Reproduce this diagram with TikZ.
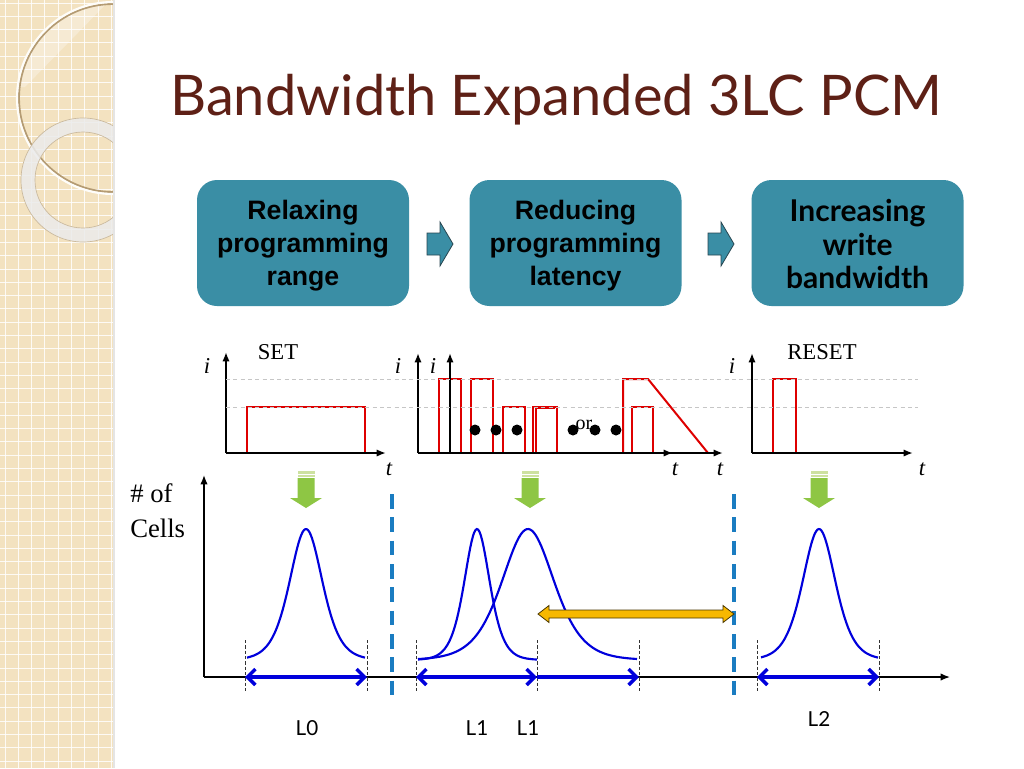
\documentclass[tikz,border=0pt]{standalone}
\usepackage{fontspec}
\setmainfont{Liberation Serif}
\newfontfamily\titlefont{Lato}
\newfontfamily\boxfont{Liberation Sans}
\newfontfamily\gillfont{Lato}
\usetikzlibrary{arrows.meta,calc}
\definecolor{stripc}{RGB}{243,226,192}
\definecolor{titlec}{RGB}{94,32,22}
\definecolor{tealc}{RGB}{58,142,165}
\definecolor{tealdark}{RGB}{40,70,80}
\definecolor{pulsec}{RGB}{222,0,0}
\definecolor{curvec}{RGB}{0,0,220}
\definecolor{dashblue}{RGB}{26,124,193}
\definecolor{goldc}{RGB}{247,184,0}
\definecolor{greenc}{RGB}{142,198,68}
\definecolor{greenl}{RGB}{205,225,160}
\definecolor{ringbrown}{RGB}{180,155,115}
\tikzset{
  stage/.style={fill=tealc, rounded corners=15pt, minimum width=159pt, minimum height=94.5pt,
    inner sep=0pt},
  stagetext/.style={align=center, inner sep=0pt, font=\boxfont\bfseries\fontsize{20}{24.75}\selectfont},
  blockarrow/.style={fill=tealc, draw=tealdark, line width=0.6pt},
  axisline/.style={line width=1.4pt, -{Latex[length=7pt,width=5.5pt]}},
  axisthin/.style={line width=1pt, -{Latex[length=7pt,width=5.5pt]}},
  pulse/.style={pulsec, line width=1.5pt},
  guide/.style={gray!45, line width=0.6pt, dash pattern=on 3pt off 2.5pt},
  serif/.style={font=\fontsize{17}{20}\selectfont},
  ilab/.style={font=\itshape\fontsize{17}{20}\selectfont, anchor=base},
  curve/.style={curvec, line width=1.6pt},
  tick/.style={black!80, line width=0.6pt, dash pattern=on 2.5pt off 1.5pt},
  spread/.style={curvec, line width=2.6pt},
  sep/.style={dashblue, line width=2.6pt, dash pattern=on 11pt off 6.5pt},
  greenarrow/.style={fill=greenc},
  llab/.style={font=\gillfont\fontsize{15.5}{18}\selectfont, anchor=base},
  gridline/.style={white, line width=0.7pt, opacity=0.85}
}
\begin{document}
\begin{tikzpicture}[x=0.75pt,y=-0.75pt]
\useasboundingbox (0,0) rectangle (1024,768);
\fill[white] (0,0) rectangle (1024,768);
% ---------- decorative strip ----------
\begin{scope}
  \clip (0,0) rectangle (113,768);
  \fill[stripc] (0,0) rectangle (113,768);
  \foreach \gx in {5,18.3,...,113} \draw[gridline] (\gx,0) -- (\gx,768);
  \foreach \gy in {3,16.3,...,768} \draw[gridline] (0,\gy) -- (113,\gy);
  \begin{scope}
    \clip (113,98) circle (95);
    \fill[white, opacity=0.3] (0,0) -- (110,0) -- (25,87) -- (0,87) -- cycle;
  \end{scope}
  \draw[ringbrown, line width=1.4pt] (113,98) circle (94);
  \draw[white!92!stripc, line width=1.6pt] (113,98) circle (96);
  \fill[black!8, opacity=0.85, even odd rule] (83,180) circle (62) (83,180) circle (48);
  \draw[ringbrown!70, line width=0.5pt] (83,180) circle (62) (83,180) circle (48);
\end{scope}
\fill[black!10] (113,0) rectangle (115,768);
% ---------- title ----------
\node[anchor=base west, text=titlec, inner sep=0pt, font=\titlefont\fontsize{42}{50}\selectfont]
  (title) at (170,115) {Bandwidth Expanded 3LC PCM};
% ---------- stage boxes ----------
\node[stage] (b1) at (303,243) {};
\node[stage] (b2) at (575.5,243) {};
\node[stage] (b3) at (857.5,243) {};
\node[stagetext] (b1t) at ($(b1.center)+(0,3)$) {Relaxing\\programming\\range};
\node[stagetext] (b2t) at ($(b2.center)+(0,3)$) {Reducing\\programming\\latency};
\node[stagetext, font=\gillfont\bfseries\fontsize{22.5}{25}\selectfont] (b3t) at ($(b3.center)+(0,1)$) {Increasing\\write\\bandwidth};
\draw[blockarrow] (427,233) -- (440,233) -- (440,222) -- (453,244) -- (440,266) -- (440,255) -- (427,255) -- cycle;
\draw[blockarrow] (708,233) -- (721,233) -- (721,222) -- (734,244) -- (721,266) -- (721,255) -- (708,255) -- cycle;
% ---------- pulse plots ----------
% SET
\draw[pulse] (247,453) -- (247,407) -- (365,407) -- (365,453);
\draw[axisline] (226,453) -- (226,352);
\draw[axisline] (226,453) -- (386,453);
\node[serif, anchor=base] (setl) at (278,359) {SET};
\node[ilab] (i1) at (207,373) {i};
\node[ilab] (t1) at (389,475) {t};
% middle
\draw[pulse] (439,453) -- (439,379) -- (461,379) -- (461,453);
\draw[pulse] (471,453) -- (471,379) -- (493,379) -- (493,453);
\draw[pulse] (503,453) -- (503,407) -- (525,407) -- (525,453);
\draw[pulse] (533,453) -- (533,407) -- (557,407) -- (557,453);
\draw[pulse] (536,453) -- (536,408) -- (555,408);
\draw[pulse] (623,453) -- (623,379) -- (648,379) -- (708,453);
\draw[pulse] (632,453) -- (632,407) -- (653,407) -- (653,453);
\draw[axisline] (418,453) -- (418,353);
\draw[axisline] (418,453) -- (673,453);
\draw[axisline] (450,453) -- (450,353);
\draw[axisline] (450,453) -- (723,453);
\node[ilab] (i2) at (398,373) {i};
\node[ilab] (i3) at (433,373) {i};
\node[ilab] (t2) at (675,475) {t};
\node[ilab] (t3) at (720,475) {t};
\node[font=\fontsize{15}{17}\selectfont, inner sep=0pt] (orl) at (584,425) {or};
\foreach \dx in {475,496,517,573,595,616} \fill[black] (\dx,430) circle (5.5);
% RESET
\draw[pulse] (773,453) -- (773,379) -- (796,379) -- (796,453);
\draw[axisline] (752,453) -- (752,353);
\draw[axisline] (752,453) -- (913,453);
\node[serif, anchor=base] (resetl) at (822,359) {RESET};
\node[ilab] (i4) at (732,373) {i};
\node[ilab] (t4) at (922,475) {t};
% guide lines
\draw[guide] (226,379) -- (918,379);
\draw[guide] (226,407) -- (918,407);
% ---------- green arrows ----------
\foreach \cx in {306,530,819} {
  \fill[greenl] (\cx-8.5,471) rectangle (\cx+8.5,473.5);
  \fill[greenl] (\cx-8.5,475) rectangle (\cx+8.5,477);
  \fill[greenarrow] (\cx-8.5,478) -- (\cx+8.5,478) -- (\cx+8.5,498) -- (\cx+16,498) -- (\cx,508) -- (\cx-16,498) -- (\cx-8.5,498) -- cycle;
}
% ---------- distribution plot ----------
\draw[axisthin] (204,677) -- (204,475);
\draw[axisthin] (204,677) -- (950,677);
\node[anchor=base west, font=\fontsize{20}{24}\selectfont, inner sep=0pt] (cells1) at (130,502) {\# of};
\node[anchor=base west, font=\fontsize{20}{24}\selectfont, inner sep=0pt] (cells2) at (130,537) {Cells};
% separators
\draw[sep] (392,494) -- (392,699);
\draw[sep] (734,494) -- (734,699);
% tick marks
\foreach \tx in {245,367,416,537,639,757,879} \draw[tick] (\tx,640) -- (\tx,692);
% curves
\draw[curve] plot[domain=247:365, samples=90] (\x, {660 - 131/(cosh((\x-306)/22))^2});
\draw[curve] plot[domain=418:537, samples=90] (\x, {660 - 131/(cosh((\x-477)/17))^2});
\draw[curve] plot[domain=418:637, samples=120] (\x, {660 - 131/(cosh((\x-528)/35))^2});
\draw[curve] plot[domain=761:878, samples=90] (\x, {660 - 131/(cosh((\x-819)/22))^2});
% spread arrows
\coordinate (a0) at (245,677); \coordinate (a1) at (367,677);
\coordinate (c0) at (416,677); \coordinate (c1) at (537,677); \coordinate (c2) at (639,677);
\coordinate (d0) at (757,677); \coordinate (d1) at (879,677);
\draw[spread, {Straight Barb[length=6pt,width=12pt]}-{Straight Barb[length=6pt,width=12pt]}] (a0) -- (a1);
\draw[spread, {Straight Barb[length=6pt,width=12pt]}-{Straight Barb[length=6pt,width=12pt]}] (c0) -- (c1);
\draw[spread, -{Straight Barb[length=6pt,width=12pt]}] (c1) -- (c2);
\draw[spread, {Straight Barb[length=6pt,width=12pt]}-{Straight Barb[length=6pt,width=12pt]}] (d0) -- (d1);
% gold arrow
\draw[fill=goldc, draw=black!70!goldc, line width=0.6pt]
  (538,614) -- (549,605.5) -- (549,610) -- (723,610) -- (723,605.5) -- (734,614)
  -- (723,622.5) -- (723,618) -- (549,618) -- (549,622.5) -- cycle;
% level labels
\node[llab] (l0) at (307,735) {L0};
\node[llab] (l1a) at (477,735) {L1};
\node[llab] (l1b) at (528,735) {L1};
\node[llab] (l2) at (819,726) {L2};
\end{tikzpicture}
\end{document}
